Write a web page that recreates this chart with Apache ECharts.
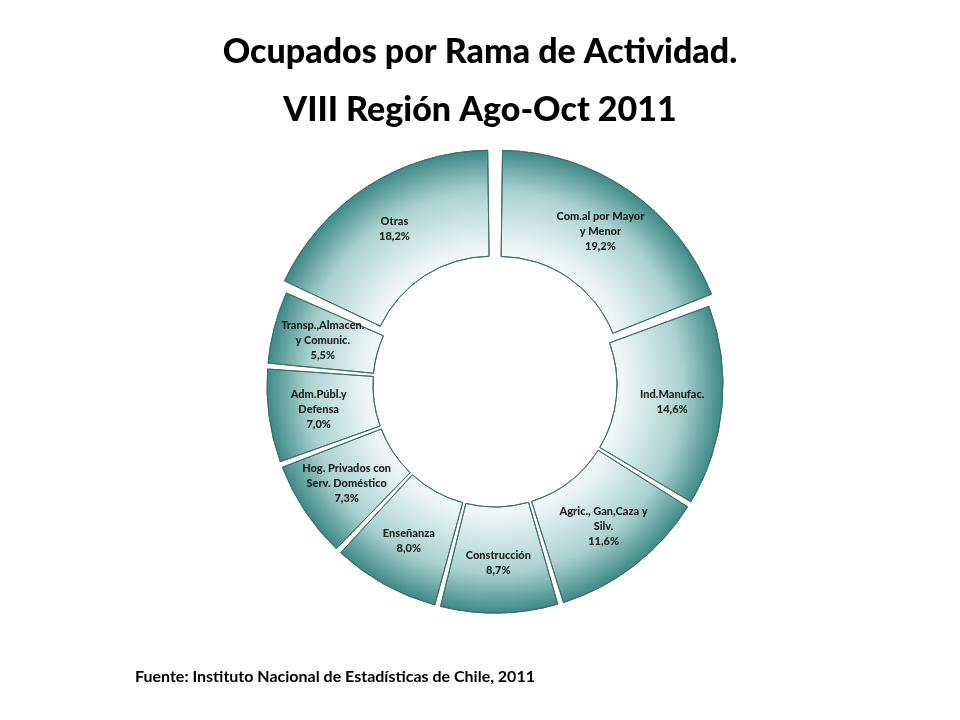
<!DOCTYPE html>
<html>
<head>
<meta charset="utf-8">
<script src="https://cdn.jsdelivr.net/npm/echarts@6/dist/echarts.min.js"></script>
<style>html,body{margin:0;padding:0;background:#fff}#echart-root{width:960px;height:720px}</style>
</head>
<body>
<div id="echart-root"></div>
<script>
// datos
const categorias = ["Com.al por Mayor\ny Menor", "Ind.Manufac.", "Agric., Gan,Caza y\nSilv.", "Construcción", "Enseñanza", "Hog. Privados con\nServ. Doméstico", "Adm.Públ.y\nDefensa", "Transp.,Almacen.\ny Comunic.", "Otras"];
const porcentajes = [19.2, 14.6, 11.6, 8.7, 8.0, 7.3, 7.0, 5.5, 18.2];

const myChart = echarts.init(document.getElementById("echart-root"));

const degradado = {
  type: "radial", x: 495, y: 385, r: 235, global: true,
  colorStops: [
    { offset: 0, color: "#ffffff" },
    { offset: 0.55, color: "#eef6f6" },
    { offset: 0.8, color: "#a9d1d0" },
    { offset: 1, color: "#2b7d79" }
  ]
};

const option = {
  title: [
    {
      text: "Ocupados por Rama de Actividad.\nVIII Región Ago-Oct 2011",
      left: "center", top: 18,
      textStyle: { fontFamily: "Lato", fontWeight: 900, fontSize: 34, lineHeight: 58, color: "#000" }
    },
    {
      text: "Fuente: Instituto Nacional de Estadísticas de Chile, 2011",
      left: 130, top: 664,
      textStyle: { fontFamily: "Lato", fontWeight: "bold", fontSize: 16, color: "#000" }
    }
  ],
  series: [
    {
      type: "pie",
      center: [495, 385],
      radius: [122, 228],
      startAngle: 90,
      clockwise: true,
      padAngle: 1.5,
      selectedMode: "multiple",
      selectedOffset: 8,
      avoidLabelOverlap: false,
      itemStyle: { color: degradado, borderColor: "#3e6e6c", borderWidth: 1 },
      label: {
        position: "inside",
        fontFamily: "Lato", fontWeight: 900, fontSize: 11, lineHeight: 15, color: "#222",
        formatter: (p) => p.name + "\n" + p.value.toFixed(1).replace(".", ",") + "%"
      },
      labelLine: { show: false },
      data: categorias.map((c, i) => ({ name: c, value: porcentajes[i], selected: i === 0 || i === 8 }))
    }
  ]
};
myChart.setOption(option);
</script>
</body>
</html>
